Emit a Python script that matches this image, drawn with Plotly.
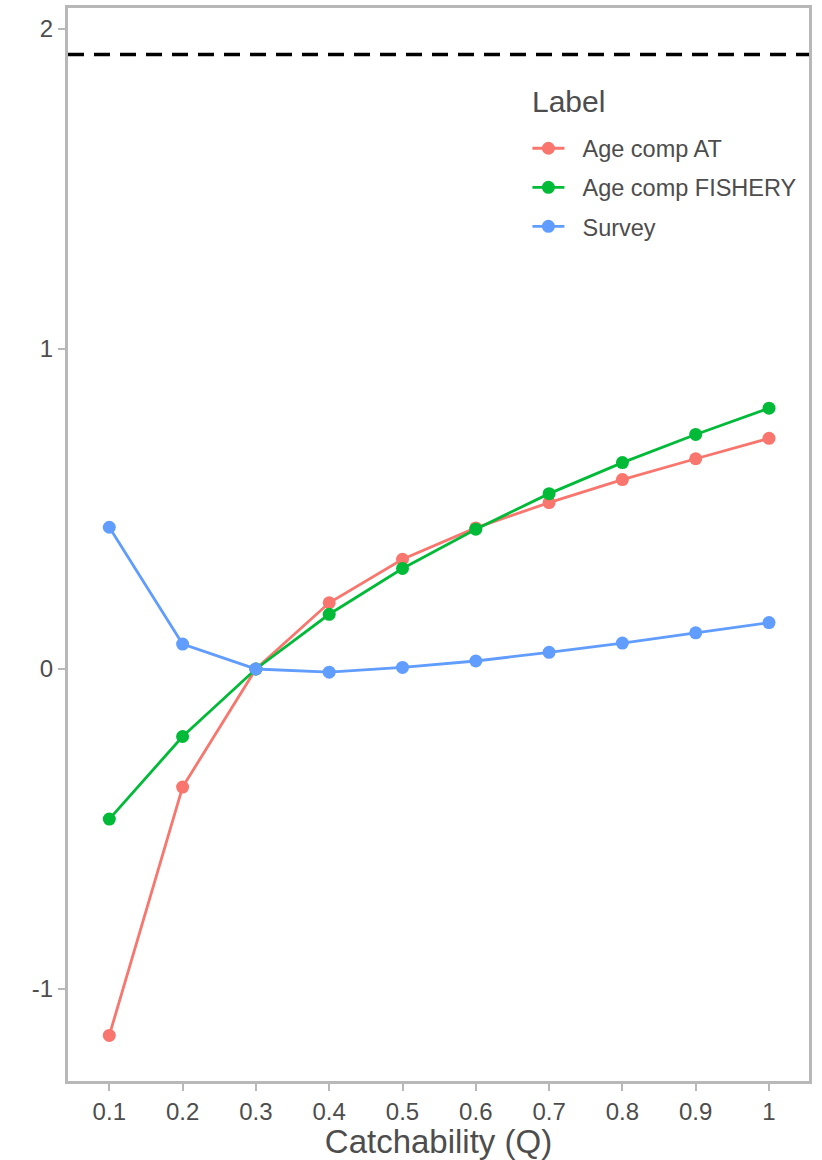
import plotly.graph_objects as go

# Catchability values (x axis)
catchability = [0.1, 0.2, 0.3, 0.4, 0.5, 0.6, 0.7, 0.8, 0.9, 1.0]
x_tick_text = ["0.1", "0.2", "0.3", "0.4", "0.5", "0.6", "0.7", "0.8", "0.9", "1"]

# Change in negative log-likelihood per data component
age_comp_at = [-1.145, -0.369, 0.0, 0.207, 0.343, 0.441, 0.520, 0.592, 0.657, 0.721]
age_comp_fishery = [-0.469, -0.211, 0.0, 0.171, 0.314, 0.437, 0.548, 0.645, 0.733, 0.815]
survey = [0.443, 0.078, 0.0, -0.010, 0.005, 0.025, 0.052, 0.081, 0.113, 0.145]

series_names = ["Age comp AT", "Age comp FISHERY", "Survey"]
series_colors = ["#F8766D", "#00BA38", "#619CFF"]
legend_title = "Label"

# Significance threshold (chi-square 3.84 / 2)
threshold = 1.92

y_tick_vals = [-1, 0, 1, 2]
y_tick_text = ["-1", "0", "1", "2"]

FONT = "Liberation Sans, Arial, sans-serif"
TEXT_GREY = "#4D4D4D"
BORDER_GREY = "#B8B8B8"

fig = go.Figure()
for name, ys, col in zip(series_names, [age_comp_at, age_comp_fishery, survey], series_colors):
    fig.add_trace(go.Scatter(
        x=catchability, y=ys, name="\u00a0\u00a0" + name, legendgroup=name,
        mode="lines+markers",
        line=dict(color=col, width=2.8),
        marker=dict(color=col, size=13),
    ))

fig.add_hline(y=threshold, line=dict(color="black", width=3.5, dash="16px,10px"))

# Legend heading placed above the entries
fig.add_annotation(
    text=legend_title, xref="paper", yref="paper", x=0.6235, y=0.9133,
    xanchor="left", yanchor="middle", showarrow=False,
    font=dict(size=30, color=TEXT_GREY),
)

fig.update_layout(
    width=822, height=1160,
    margin=dict(l=68, r=13, t=8, b=79),
    paper_bgcolor="white", plot_bgcolor="white",
    font=dict(family=FONT, color=TEXT_GREY),
    showlegend=True,
    legend=dict(
        font=dict(size=23.5, color=TEXT_GREY),
        x=0.62, y=0.8896, xanchor="left", yanchor="top",
        bgcolor="rgba(0,0,0,0)", itemwidth=32, tracegroupgap=5.5,
    ),
    xaxis=dict(
        range=[0.04366, 1.05457], tickvals=catchability, ticktext=x_tick_text,
        showgrid=False, zeroline=False, automargin=False,
        showline=True, mirror=True, linecolor=BORDER_GREY, linewidth=3,
        ticks="outside", ticklen=7, tickwidth=1.5, tickcolor=BORDER_GREY,
        tickfont=dict(size=24, color=TEXT_GREY),
        title=dict(text="Catchability (Q)", font=dict(size=33, color=TEXT_GREY), standoff=11),
    ),
    yaxis=dict(
        range=[-1.2875, 2.0656], tickvals=y_tick_vals, ticktext=y_tick_text,
        showgrid=False, zeroline=False, automargin=False,
        showline=True, mirror=True, linecolor=BORDER_GREY, linewidth=3,
        ticks="outside", ticklen=7, tickwidth=1.5, tickcolor=BORDER_GREY,
        tickfont=dict(size=24, color=TEXT_GREY),
    ),
)

fig.write_html("out.html")
